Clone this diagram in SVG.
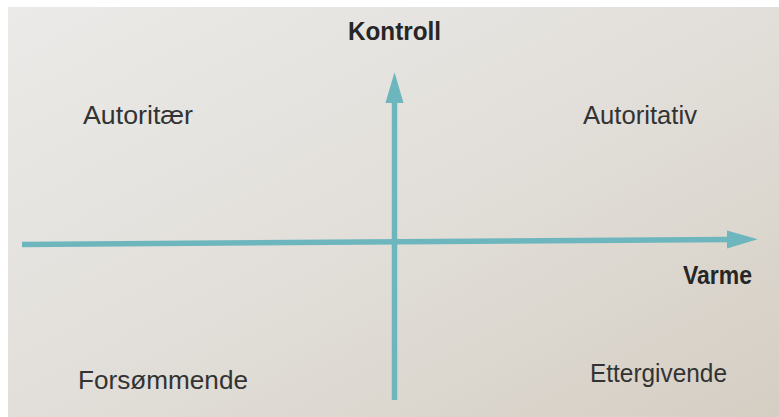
<svg xmlns="http://www.w3.org/2000/svg" width="779" height="417" viewBox="0 0 779 417">
  <defs>
    <linearGradient id="paper" x1="0" y1="0" x2="1" y2="1">
      <stop offset="0" stop-color="#ebeae8"/>
      <stop offset="0.5" stop-color="#e2dfda"/>
      <stop offset="1" stop-color="#d5cec3"/>
    </linearGradient>
    <marker id="head" viewBox="0 0 10 10" refX="1" refY="5" markerWidth="5.6" markerHeight="3.3" markerUnits="strokeWidth" orient="auto" preserveAspectRatio="none">
      <path d="M0,0 L10,5 L0,10 Z" fill="#6db6bd"/>
    </marker>
    <style>
      .axis { stroke: #6db6bd; stroke-width: 5.5; fill: none; }
      .lbl { font-family: "Liberation Sans", Arial, sans-serif; font-size: 26px; fill: #333333; }
      .ttl { font-family: "Liberation Sans", Arial, sans-serif; font-size: 26px; font-weight: bold; fill: #262626; }
    </style>
  </defs>
  <rect x="0" y="0" width="779" height="417" fill="#ffffff"/>
  <rect x="8" y="7" width="771" height="410" fill="url(#paper)"/>
  <g id="connectors">
    <path class="axis" d="M22,244.5 L730,239.5" marker-end="url(#head)"/>
    <path class="axis" d="M394.5,400 L394.5,100" marker-end="url(#head)"/>
  </g>
  <g id="kontroll"><text class="ttl" x="348" y="40" textLength="93" lengthAdjust="spacingAndGlyphs">Kontroll</text></g>
  <g id="varme"><text class="ttl" x="683" y="284" textLength="69" lengthAdjust="spacingAndGlyphs">Varme</text></g>
  <g id="autoritaer"><text class="lbl" x="83" y="124" textLength="110" lengthAdjust="spacingAndGlyphs">Autoritær</text></g>
  <g id="autoritativ"><text class="lbl" x="583" y="124" textLength="114" lengthAdjust="spacingAndGlyphs">Autoritativ</text></g>
  <g id="forsommende"><text class="lbl" x="78" y="389" textLength="170" lengthAdjust="spacingAndGlyphs">Forsømmende</text></g>
  <g id="ettergivende"><text class="lbl" x="590" y="382" textLength="137" lengthAdjust="spacingAndGlyphs">Ettergivende</text></g>
</svg>
